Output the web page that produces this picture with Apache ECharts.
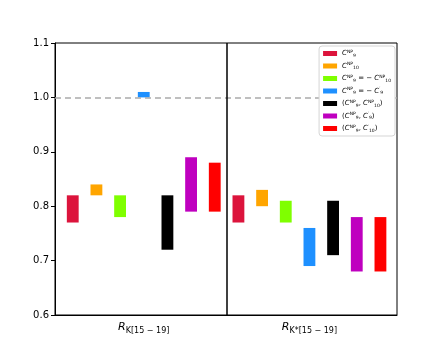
<!DOCTYPE html>
<html>
<head>
<meta charset="utf-8">
<script src="https://cdn.jsdelivr.net/npm/echarts@6/dist/echarts.min.js"></script>
<style>
html, body { margin: 0; padding: 0; background: #fff; }
#chart { width: 443px; height: 354px; }
</style>
</head>
<body>
<div id="chart"></div>
<script>
// scenarios (legend), in order
const scenarios = ['C9', 'C10', 'C9eqmC10', 'C9eqmC9p', 'C9C10', 'C9C9p', 'C9C10p'];
const colors = ['#DC143C', '#FFA500', '#7FFF00', '#1E90FF', '#000000', '#BF00BF', '#FF0000'];

// R_K[15-19] ranges
const rkLow  = [0.77, 0.82, 0.78, 1.00, 0.72, 0.79, 0.79];
const rkHigh = [0.82, 0.84, 0.82, 1.01, 0.82, 0.89, 0.88];
// R_K*[15-19] ranges
const rksLow  = [0.77, 0.80, 0.77, 0.69, 0.71, 0.68, 0.68];
const rksHigh = [0.82, 0.83, 0.81, 0.76, 0.81, 0.78, 0.78];

const yTicks = [0.6, 0.7, 0.8, 0.9, 1.0, 1.1];

const legendText = {
    C9: '{i|C}{sup|NP}{sub|9}',
    C10: '{i|C}{sup|NP}{sub|10}',
    C9eqmC10: '{i|C}{sup|NP}{sub|9}{t| = − }{i|C}{sup|NP}{sub|10}',
    C9eqmC9p: '{i|C}{sup|NP}{sub|9}{t| = − }{i|C}{sup|′}{sub|9}',
    C9C10: '{t|(}{i|C}{sup|NP}{sub|9}{t|, }{i|C}{sup|NP}{sub|10}{t|)}',
    C9C9p: '{t|(}{i|C}{sup|NP}{sub|9}{t|, }{i|C}{sup|′}{sub|9}{t|)}',
    C9C10p: '{t|(}{i|C}{sup|NP}{sub|9}{t|, }{i|C}{sup|′}{sub|10}{t|)}'
};

let dom = echarts.init(document.getElementById('chart'));

function renderBar(params, api) {
    let x = api.value(0);
    let p1 = api.coord([x - 0.25, api.value(2)]);
    let p2 = api.coord([x + 0.25, api.value(1)]);
    return {
        type: 'rect',
        shape: { x: p1[0], y: p1[1], width: p2[0] - p1[0], height: p2[1] - p1[1] },
        style: { fill: api.visual('color') }
    };
}

let series = scenarios.map(function (name, i) {
    let s = {
        name: name,
        type: 'custom',
        renderItem: renderBar,
        itemStyle: { color: colors[i] },
        encode: { x: 0, y: [1, 2] },
        data: [
            [i, rkLow[i], rkHigh[i]],
            [i + 7, rksLow[i], rksHigh[i]]
        ],
        z: 3
    };
    if (i === 0) {
        s.markLine = {
            silent: true,
            symbol: 'none',
            label: { show: false },
            data: [
                { yAxis: 1.0, lineStyle: { color: '#aaaaaa', type: [6, 4], width: 1.5 } },
                { xAxis: 6.5, lineStyle: { color: '#000', type: 'solid', width: 1.5 } }
            ]
        };
    }
    return s;
});

const sm = { fontFamily: 'DejaVu Sans', color: '#000' };

let option = {
    animation: false,
    backgroundColor: '#fff',
    grid: {
        left: 55, right: 46, top: 43, bottom: 39,
        show: true, borderColor: '#000', borderWidth: 1, backgroundColor: 'transparent'
    },
    legend: {
        z: 20,
        orient: 'vertical',
        right: 48,
        top: 46,
        itemWidth: 14,
        itemHeight: 5,
        itemGap: 3.5,
        padding: [3, 4, 3, 4],
        borderColor: '#d5d5d5',
        borderWidth: 1,
        borderRadius: 3,
        backgroundColor: '#fff',
        icon: 'rect',
        data: scenarios,
        formatter: function (n) { return legendText[n]; },
        textStyle: {
            fontFamily: 'DejaVu Sans',
            fontSize: 7,
            color: '#000',
            rich: {
                t: Object.assign({ fontSize: 7, lineHeight: 9 }, sm),
                i: Object.assign({ fontSize: 7, fontStyle: 'italic', lineHeight: 9 }, sm),
                sup: Object.assign({ fontSize: 4.5, verticalAlign: 'top', lineHeight: 9 }, sm),
                sub: Object.assign({ fontSize: 4.5, verticalAlign: 'bottom', lineHeight: 9 }, sm)
            }
        }
    },
    xAxis: {
        type: 'value',
        min: -0.75,
        max: 13.7,
        splitLine: { show: false },
        axisTick: { show: false },
        axisLine: { lineStyle: { color: '#000', width: 1 } },
        axisLabel: {
            customValues: [3, 10],
            margin: 4,
            formatter: function (v) {
                return v < 6 ? '{r|R}{s|K[15 − 19]}' : '{r|R}{s|K*[15 − 19]}';
            },
            rich: {
                r: Object.assign({ fontSize: 11, fontStyle: 'italic', lineHeight: 16 }, sm),
                s: Object.assign({ fontSize: 8, verticalAlign: 'bottom', lineHeight: 16 }, sm)
            }
        }
    },
    yAxis: {
        type: 'value',
        min: yTicks[0],
        max: yTicks[yTicks.length - 1],
        interval: 0.1,
        splitLine: { show: false },
        axisLine: { show: true, onZero: false, lineStyle: { color: '#000', width: 1 } },
        axisTick: { show: true, length: 4, lineStyle: { color: '#000' } },
        axisLabel: {
            fontFamily: 'DejaVu Sans',
            fontSize: 10,
            color: '#000',
            margin: 6,
            formatter: function (v) { return v.toFixed(1); }
        }
    },
    series: series
};

dom.setOption(option);
</script>
</body>
</html>
